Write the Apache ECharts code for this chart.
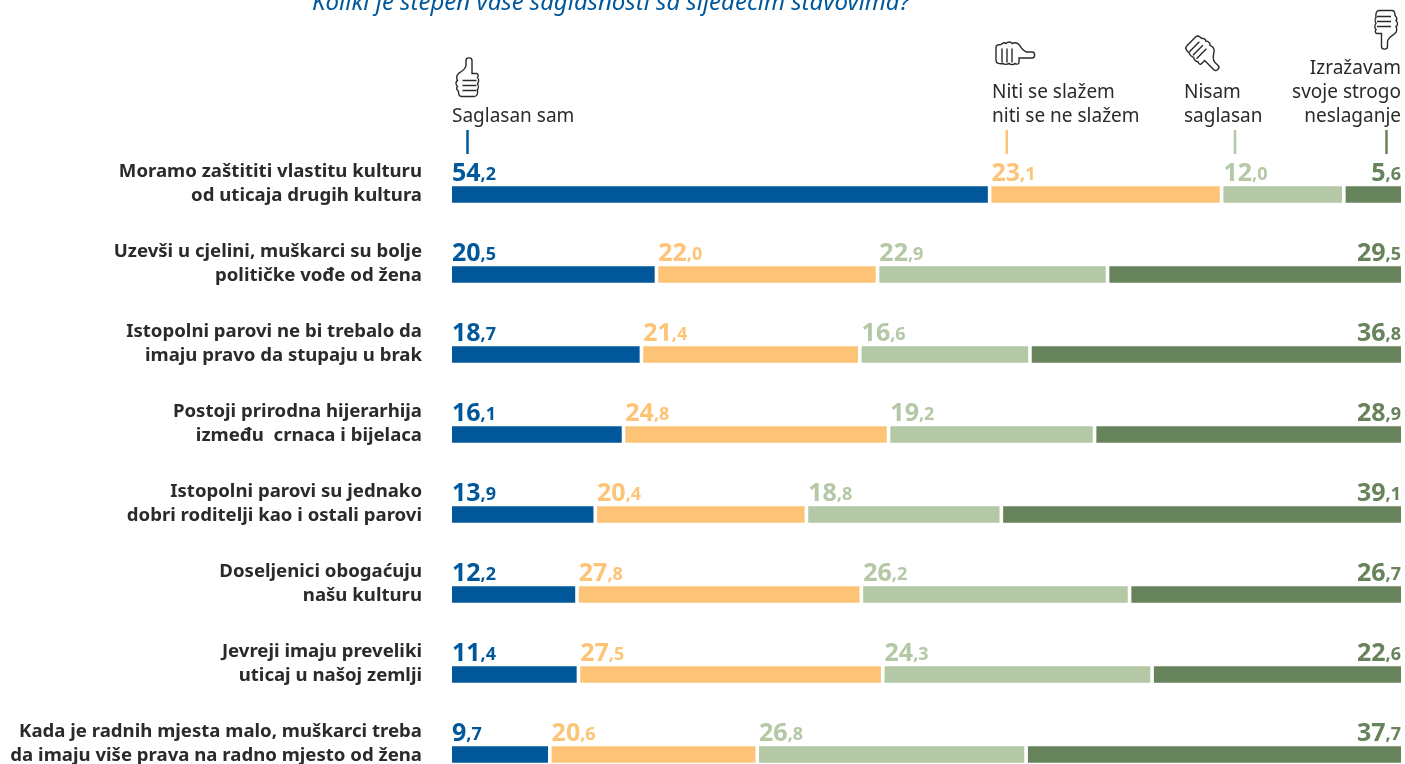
<!DOCTYPE html>
<html><head><meta charset="utf-8">
<style>html,body{margin:0;padding:0;background:#fff;overflow:hidden}#c{width:1405px;height:764px}</style>
<script src="https://cdn.jsdelivr.net/npm/echarts@6/dist/echarts.min.js"></script></head>
<body><div id="c"></div>
<script>
const categories = [
 "Moramo zaštititi vlastitu kulturu\nod uticaja drugih kultura",
 "Uzevši u cjelini, muškarci su bolje\npolitičke vođe od žena",
 "Istopolni parovi ne bi trebalo da\nimaju pravo da stupaju u brak",
 "Postoji prirodna hijerarhija\nizmeđu  crnaca i bijelaca",
 "Istopolni parovi su jednako\ndobri roditelji kao i ostali parovi",
 "Doseljenici obogaćuju\nnašu kulturu",
 "Jevreji imaju preveliki\nuticaj u našoj zemlji",
 "Kada je radnih mjesta malo, muškarci treba\nda imaju više prava na radno mjesto od žena"
];
const agree    = [54.2,20.5,18.7,16.1,13.9,12.2,11.4,9.7];
const neutral  = [23.1,22.0,21.4,24.8,20.4,27.8,27.5,20.6];
const disagree = [12.0,22.9,16.6,19.2,18.8,26.2,24.3,26.8];
const strongly = [5.6,29.5,36.8,28.9,39.1,26.7,22.6,37.7];
const seriesNames = ["Saglasan sam","Niti se slažem niti se ne slažem","Nisam saglasan","Izražavam svoje strogo neslaganje"];
const title = "Koliki je stepen vaše saglasnosti sa sljedećim stavovima?";

const FONT = '"Noto Sans"';
const BLUE='#00589b', ORANGE='#fdc478', LIGHT='#b5c8a5', DARK='#67835c', INK='#2b2a29';
const rows=[agree,neutral,disagree,strongly], colors=[BLUE,ORANGE,LIGHT,DARK];
const GAP=0.38;
const totals=agree.map((_,i)=>rows.reduce((s,r)=>s+r[i],0));
const norm=(r,i)=>r[i]/totals[i]*(100-3*GAP);

function mkLabel(k){
  const raw=rows[k], last=k===3;
  const rich={};
  rich.a={fontFamily:FONT,fontWeight:700,fontSize:25,color:colors[k],lineHeight:26,verticalAlign:'bottom'};
  rich.b={fontFamily:FONT,fontWeight:700,fontSize:18,color:colors[k],lineHeight:26,verticalAlign:'bottom',padding:[0,0,2,0]};
  return {show:true,position:[last?'100%':0,-26],align:last?'right':'left',verticalAlign:'top',
    formatter:p=>{const [a,b]=raw[p.dataIndex].toFixed(1).split('.');return `{a|${a}}{b|,${b}}`;},rich};
}
const series=[];
rows.forEach((r,k)=>{
  series.push({type:'bar',name:seriesNames[k],stack:'s',barWidth:16.5,silent:true,
    itemStyle:{color:colors[k]},label:mkLabel(k),data:r.map((_,i)=>norm(r,i))});
  if(k<3)series.push({type:'bar',stack:'s',barWidth:16.5,silent:true,itemStyle:{color:'transparent'},data:r.map(()=>GAP)});
});

const thumb="M-9 -4C-6 -6 -2 -8 -1.5 -12L-1.5 -17C-1.5 -20.5 4.5 -20.5 4.5 -17L4.5 -4L9 -4C11 -4 11 -1 10 0C11.5 1 11.5 5 10 6C11 8 11 11 10 12C10.5 15 10 19 7 19L-6 19C-9 19 -9 15 -9 14C-11 12 -11 10 -10 9C-12 7 -12 4 -10 3C-11 1 -11 -2 -9 -4ZM-5 3L9 3M-5 8L9 8M-5 13L9 13";
echarts.graphic.registerShape('thumb',echarts.graphic.extendPath(thumb,{}));
const icon=(x,y,deg)=>({type:'thumb',x,y,rotation:-deg*Math.PI/180,originX:0,originY:0,
  style:{fill:'none',stroke:INK,lineWidth:1.4}});
const tick=(x,c)=>({type:'line',shape:{x1:x,y1:130,x2:x,y2:154},style:{stroke:c,lineWidth:2.5}});
const head=(x,y,t,al)=>({type:'text',x,y,style:{text:t,fill:INK,font:`400 19px ${FONT}`,align:al||'left',verticalAlign:'middle',lineHeight:24}});

const chart=echarts.init(document.getElementById('c'),null,{renderer:'canvas'});
const catStyle={color:INK,fontFamily:FONT,fontWeight:700,fontSize:18.6,lineHeight:24,align:'right'};
chart.setOption({
  animation:false,backgroundColor:'#fff',
  grid:{left:452,top:154.5,width:949,height:640,containLabel:false,outerBoundsMode:'none'},
  xAxis:{type:'value',min:0,max:100,show:false},
  yAxis:{type:'category',inverse:true,data:categories,
    axisLine:{show:false},axisTick:{show:false},splitLine:{show:false},
    axisLabel:{margin:30,interval:0,align:'right',verticalAlign:'middle',
      formatter:v=>v.split('\n').map(l=>`{t|${l}}`).join('\n')+'\n{s| }',
      rich:{t:catStyle,s:{fontSize:10,lineHeight:21,align:'right'}}}},
  series,
  graphic:[
    {type:'text',x:312,y:3,style:{text:title,fill:BLUE,font:`italic 400 24px ${FONT}`,align:'left',verticalAlign:'middle'}},
    icon(467.5,77.5,0),icon(1015,53.5,90),icon(1205,54.5,135),icon(1386,29.5,180),
    tick(467.5,BLUE),tick(1006.8,ORANGE),tick(1235,LIGHT),tick(1386.5,DARK),
    head(452,116.5,seriesNames[0]),
    head(992,105,"Niti se slažem\nniti se ne slažem"),
    head(1184,105,"Nisam\nsaglasan"),
    head(1401,93,"Izražavam\nsvoje strogo\nneslaganje",'right')
  ]
});
</script></body></html>
